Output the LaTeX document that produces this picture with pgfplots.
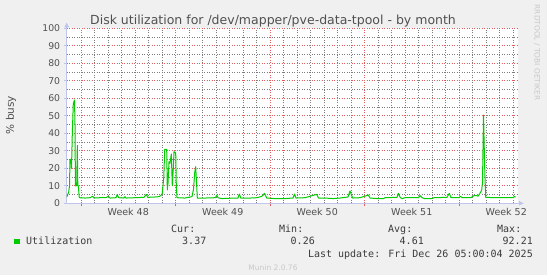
\documentclass[border=0pt]{standalone}
\usepackage{pgfplots}
\pgfplotsset{compat=1.18}
\usepackage{fontspec}
\setmainfont{DejaVu Sans}
\newfontfamily\monofont{DejaVu Sans Mono}
\usetikzlibrary{arrows.meta}
\definecolor{bgc}{RGB}{240,240,240}
\definecolor{txt}{RGB}{80,80,80}
\definecolor{legtxt}{RGB}{60,60,60}
\definecolor{mgrid}{RGB}{225,95,95}
\definecolor{ngrid}{RGB}{125,125,125}
\definecolor{axisc}{RGB}{190,196,236}
\definecolor{linec}{RGB}{0,204,0}
\definecolor{faint}{RGB}{200,200,200}
\tikzset{gridgray/.style={draw=ngrid, line width=1pt, dash pattern=on 1pt off 1.5pt}}
\begin{document}
\begin{tikzpicture}[x=1pt,y=1pt]
\fill[bgc] (0,0) rectangle (547,275);
\useasboundingbox (0,0) rectangle (547,275);
\begin{axis}[
  at={(66.7pt,71.7pt)}, anchor=south west,
  scale only axis, width=451.3pt, height=175pt,
  xmin=-1.06, xmax=32.37, ymin=0, ymax=100,
  axis background/.style={fill=white},
  axis x line=bottom, axis y line=left,
  axis line style={draw=axisc, line width=0.8pt, -{Latex[length=5pt,width=5pt]}, shorten >=-6pt},
  xtick={0,7,14,21,28}, xticklabels={,,,,},
  ytick={0,10,...,100},
  grid=major,
  major grid style={draw=mgrid, line width=1pt, dash pattern=on 1pt off 1.5pt},
  tick align=outside,
  major tick length=3pt,
  xtick style={draw=mgrid, line width=1pt},
  ytick style={draw=axisc, line width=0.8pt},
  extra x ticks={3.5,10.5,17.5,24.5,31.5},
  extra x tick labels={Week 48,Week 49,Week 50,Week 51,Week 52},
  extra x tick style={grid=none, major tick length=0pt},
  /pgf/number format/assume math mode=true,
  xticklabel style={font=\fontsize{9.5}{11}\selectfont, text=txt, yshift=-1pt},
  yticklabel style={font=\fontsize{9.3}{11}\selectfont, text=txt},
]
\pgfplotsinvokeforeach{1,2,3,4,5,6,8,9,10,11,12,13,15,16,17,18,19,20,22,23,24,25,26,27,29,30,31,32}{
  \draw[gridgray] (axis cs:#1,0) -- (axis cs:#1,100);
}
\pgfplotsinvokeforeach{5,15,25,35,45,55,65,75,85,95}{
  \draw[gridgray] (axis cs:-1.06,#1) -- (axis cs:32.37,#1);
}
\addplot[linec, line width=1pt, line join=round, mark=none] coordinates {
(-1.037,3.8) (-0.911,6.5) (-0.852,10) (-0.815,25) (-0.741,25) (-0.704,20)
(-0.644,40) (-0.570,57) (-0.481,59) (-0.444,45) (-0.415,10) (-0.319,10)
(-0.274,33) (-0.237,10) (-0.200,10) (-0.126,3.2)
(0.296,3.0) (0.667,3.2) (0.867,4.0) (0.963,3.0) (1.407,3.2) (1.852,3.2)
(2.022,4.0) (2.148,3.0) (2.593,3.2) (2.689,5.1) (2.778,3.2) (3.185,3.0)
(3.259,3.8) (3.333,3.0) (4.0,3.2) (4.667,3.4) (4.837,5.1) (4.948,3.4)
(5.481,3.6) (5.778,3.8) (5.926,4.5) (6.022,5.7) (6.133,15) (6.2,30.8)
(6.348,30.8) (6.393,7.6) (6.444,11.4) (6.519,23.8) (6.593,22.8) (6.689,28.2)
(6.763,10) (6.837,20) (6.889,29.5) (7.015,28.5) (7.059,10) (7.111,3.2)
(7.704,3.0) (8.074,3.6) (8.222,3.8) (8.333,8) (8.430,18) (8.496,20.9)
(8.556,12) (8.615,2.9) (9.185,3.0) (9.963,3.2) (10.052,4.7) (10.148,3.2)
(10.422,2.7) (11.037,2.9) (11.630,3.0) (11.726,5.3) (11.837,3.0) (12.519,3.0)
(13.037,3.2) (13.407,4.0) (13.593,5.7) (13.756,3.0) (14.370,2.7) (15.111,2.7)
(15.704,3.0) (15.815,5.3) (15.926,3.0) (16.593,3.2) (17.459,5.1) (17.593,3.0)
(18.074,3.0) (18.667,2.7) (19.185,3.0) (19.778,3.6) (19.926,7.0) (20.126,3.0)
(20.667,3.2) (21.281,4.7) (21.407,3.0) (22.148,2.6) (22.393,2.6) (22.519,3.2)
(23.407,3.4) (23.504,5.7) (23.630,3.6) (23.756,2.6) (24.0,3.2) (25.0,3.2)
(25.111,4.4) (25.259,3.2) (25.481,2.6) (25.978,2.6) (26.148,3.2) (27.111,3.4)
(27.281,5.7) (27.407,3.2) (28.0,3.2) (28.111,4.0) (28.222,3.2) (28.889,3.2)
(29.111,4.4) (29.311,4.4) (29.407,4.0) (29.556,5.7) (29.681,7.6) (29.741,12)
(29.815,50.4) (29.904,20) (29.978,3.4) (30.667,3.2) (31.407,3.2) (32.0,3.2)
(32.111,4.0) (32.185,3.4)
};
\end{axis}
% title and side texts
\node[anchor=base, inner sep=0, text=txt, font=\fontsize{12.5}{14}\selectfont] at (273,250.7) {Disk utilization for /dev/mapper/pve-data-tpool - by month};
\node[rotate=90, inner sep=0, text=txt, font=\fontsize{10.5}{12}\selectfont] at (11,160) {\% busy};
\node[rotate=-90, inner sep=0, text=faint, font=\fontsize{7.4}{9}\selectfont] at (537,222.5) {RRDTOOL / TOBI OETIKER};
% legend
\fill[linec] (14,30.5) rectangle (19.6,36.2);
\begin{scope}[every node/.style={inner sep=0, text=legtxt, font=\monofont\fontsize{10}{12}\selectfont}]
\node[anchor=base west] at (26,30.1) {Utilization};
\node[anchor=base west] at (171,42.3) {Cur:};
\node[anchor=base west] at (279,42.3) {Min:};
\node[anchor=base west] at (388,42.3) {Avg:};
\node[anchor=base west] at (497,42.3) {Max:};
\node[anchor=base east] at (206.5,30.1) {3.37};
\node[anchor=base east] at (315,30.1) {0.26};
\node[anchor=base east] at (424,30.1) {4.61};
\node[anchor=base east] at (533,30.1) {92.21};
\node[anchor=base east] at (533,17.2) {Last update: Fri Dec 26 05:00:04 2025};
\end{scope}
\node[anchor=base, inner sep=0, text=faint, font=\fontsize{7.5}{9}\selectfont] at (273,4.6) {Munin 2.0.76};
\end{tikzpicture}
\end{document}
